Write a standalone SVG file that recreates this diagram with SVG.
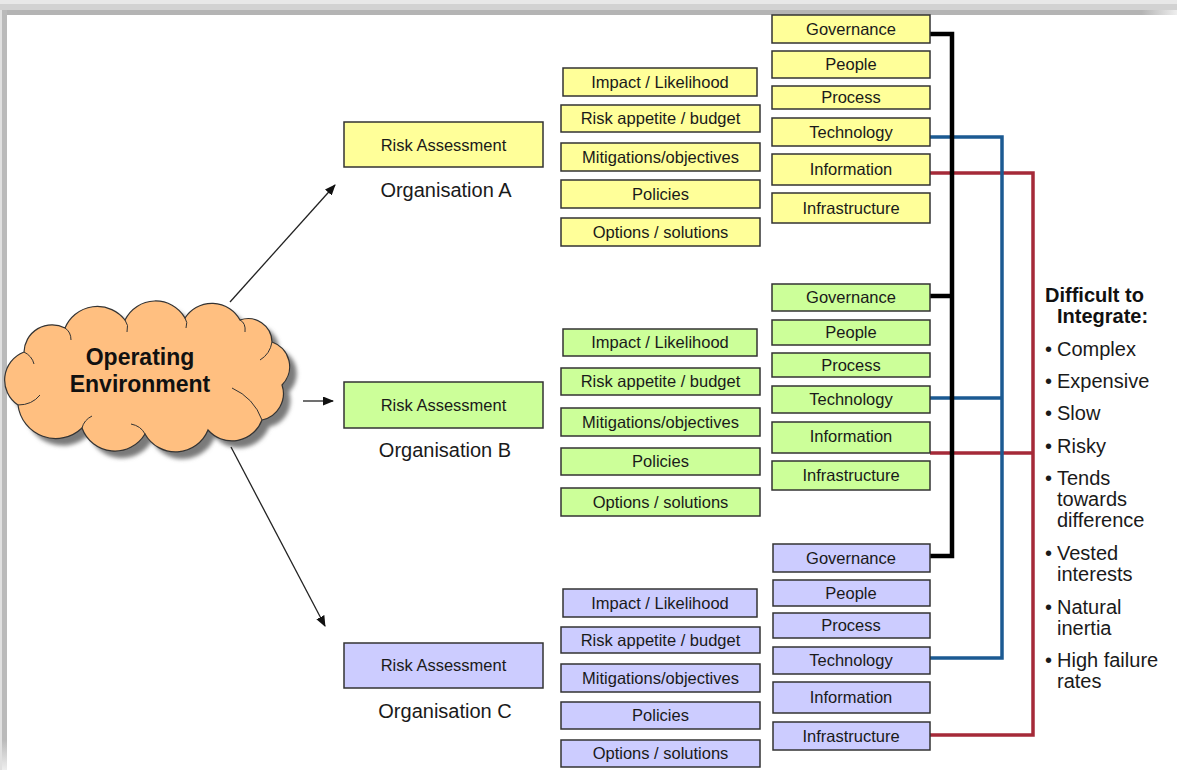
<svg xmlns="http://www.w3.org/2000/svg" width="1177" height="770" viewBox="0 0 1177 770">
  <defs>
    <style>
      .lbl { font-family: "Liberation Sans", Arial, sans-serif; font-size: 16.5px; fill: #1a1a1a; text-anchor: middle; }
      .org { font-family: "Liberation Sans", Arial, sans-serif; font-size: 20px; fill: #1a1a1a; text-anchor: middle; }
      .side { font-family: "Liberation Sans", Arial, sans-serif; font-size: 20px; fill: #1a1a1a; }
      .head { font-family: "Liberation Sans", Arial, sans-serif; font-size: 20px; font-weight: bold; fill: #111; }
      .cloudtxt { font-family: "Liberation Sans", Arial, sans-serif; font-size: 23px; font-weight: bold; fill: #111; text-anchor: middle; }
      .ya rect { fill: #ffff99; stroke: #333; stroke-width: 1.5; }
      .gb rect { fill: #ccff99; stroke: #333; stroke-width: 1.5; }
      .lc rect { fill: #ccccff; stroke: #333; stroke-width: 1.5; }
      .arrow { stroke: #222; stroke-width: 1.3; fill: none; marker-end: url(#head); }
      .blk { stroke: #000; stroke-width: 4.5; fill: none; }
      .blu { stroke: #1b5a92; stroke-width: 3.5; fill: none; }
      .red { stroke: #a52a38; stroke-width: 3.5; fill: none; }
    </style>
    <marker id="head" markerWidth="11" markerHeight="9" refX="10" refY="4.5" orient="auto" markerUnits="userSpaceOnUse">
      <path d="M0,0 L11,4.5 L0,9 Z" fill="#111"/>
    </marker>
    <filter id="soft" x="-10%" y="-10%" width="120%" height="120%">
      <feGaussianBlur stdDeviation="2"/>
    </filter>
    <linearGradient id="fadeR" x1="0" y1="0" x2="1" y2="0">
      <stop offset="0.97" stop-color="#b4b4b4"/>
      <stop offset="1" stop-color="#eeeeee"/>
    </linearGradient>
    <linearGradient id="fadeB" x1="0" y1="0" x2="0" y2="1">
      <stop offset="0.96" stop-color="#bababa"/>
      <stop offset="1" stop-color="#eeeeee"/>
    </linearGradient>
    <path id="cloudShape" d="M18,405 A30,30 0 0 1 24,352 A28,28 0 0 1 65,328 A35,35 0 0 1 125,320 A34,34 0 0 1 185,318 A32,32 0 0 1 240,320 A24,24 0 0 1 272,342 A26,26 0 0 1 282,385 A27,27 0 0 1 262,420 A32,32 0 0 1 208,430 A35,35 0 0 1 145,434 A35,35 0 0 1 82,428 A38,38 0 0 1 18,405 Z"/>
  </defs>

  <!-- page background and frame edges -->
  <rect x="0" y="0" width="1177" height="770" fill="#ffffff"/>
  <rect x="0" y="0" width="1177" height="4" fill="#e8e8e8"/>
  <rect x="0" y="4" width="1177" height="6" fill="#d2d2d2"/>
  <rect x="0" y="10" width="1177" height="5" fill="url(#fadeR)"/>
  <rect x="0" y="10" width="2" height="760" fill="#e0e0e0"/>
  <rect x="2" y="10" width="5" height="760" fill="url(#fadeB)"/>

  <!-- operating environment cloud -->
  <g id="cloud">
    <use href="#cloudShape" transform="translate(7,7)" fill="#7a7a7a" filter="url(#soft)"/>
    <use href="#cloudShape" fill="#ffbf80" stroke="#333" stroke-width="1.2"/>
    <path d="M24,352 q8,4 10,12 M65,328 q6,4 6,12 M125,320 q4,5 2,12 M185,318 q3,4 1,10 M240,320 q6,3 5,12 M272,342 q-2,12 -12,18 M262,420 q-8,-22 -30,-32 M145,434 q-4,-8 -14,-10 M82,428 q2,-8 10,-12 M18,405 q14,0 22,-10" fill="none" stroke="#333" stroke-width="1"/>
    <text class="cloudtxt" x="140" y="365">Operating</text>
    <text class="cloudtxt" x="140" y="392">Environment</text>
  </g>

  <!-- arrows from the cloud to each organisation -->
  <g id="arrows">
    <line class="arrow" x1="230" y1="302" x2="335" y2="185"/>
    <line class="arrow" x1="303" y1="401" x2="333" y2="401"/>
    <line class="arrow" x1="231" y1="447" x2="325" y2="626"/>
  </g>

  <!-- integration connectors -->
  <g id="connectors">
    <path class="red" d="M930,173 H1033 V735 H930 M930,453 H1033"/>
    <path class="blu" d="M930,137 H1002 V658 H930 M930,398 H1002"/>
    <path class="blk" d="M930,34 H952 V556 H930 M930,296 H952"/>
  </g>

  <!-- Organisation A -->
  <g id="orgA" class="ya">
    <g id="orgA-risk"><rect x="344" y="122" width="199" height="45"/><text class="lbl" x="443.5" y="150.5">Risk Assessment</text></g>
    <text class="org" x="446" y="197">Organisation A</text>
    <g id="orgA-impact"><rect x="563" y="68" width="194" height="28"/><text class="lbl" x="660" y="87.5">Impact / Likelihood</text></g>
    <g id="orgA-appetite"><rect x="561" y="105" width="199" height="27"/><text class="lbl" x="660.5" y="124">Risk appetite / budget</text></g>
    <g id="orgA-mitigations"><rect x="561" y="143" width="199" height="28"/><text class="lbl" x="660.5" y="162.5">Mitigations/objectives</text></g>
    <g id="orgA-policies"><rect x="561" y="180" width="199" height="28"/><text class="lbl" x="660.5" y="199.5">Policies</text></g>
    <g id="orgA-options"><rect x="561" y="218" width="199" height="28"/><text class="lbl" x="660.5" y="237.5">Options / solutions</text></g>
    <g id="orgA-governance"><rect x="772" y="15" width="158" height="28"/><text class="lbl" x="851" y="34.5">Governance</text></g>
    <g id="orgA-people"><rect x="772" y="51" width="158" height="27"/><text class="lbl" x="851" y="70">People</text></g>
    <g id="orgA-process"><rect x="772" y="86" width="158" height="23"/><text class="lbl" x="851" y="103">Process</text></g>
    <g id="orgA-technology"><rect x="772" y="118" width="158" height="28"/><text class="lbl" x="851" y="137.5">Technology</text></g>
    <g id="orgA-information"><rect x="772" y="154" width="158" height="31"/><text class="lbl" x="851" y="175">Information</text></g>
    <g id="orgA-infrastructure"><rect x="772" y="193" width="158" height="30"/><text class="lbl" x="851" y="213.5">Infrastructure</text></g>
  </g>

  <!-- Organisation B -->
  <g id="orgB" class="gb">
    <g id="orgB-risk"><rect x="344" y="382" width="199" height="46"/><text class="lbl" x="443.5" y="410.5">Risk Assessment</text></g>
    <text class="org" x="445" y="457">Organisation B</text>
    <g id="orgB-impact"><rect x="563" y="329" width="194" height="27"/><text class="lbl" x="660" y="348">Impact / Likelihood</text></g>
    <g id="orgB-appetite"><rect x="561" y="368" width="199" height="27"/><text class="lbl" x="660.5" y="387">Risk appetite / budget</text></g>
    <g id="orgB-mitigations"><rect x="561" y="408" width="199" height="28"/><text class="lbl" x="660.5" y="427.5">Mitigations/objectives</text></g>
    <g id="orgB-policies"><rect x="561" y="448" width="199" height="27"/><text class="lbl" x="660.5" y="467">Policies</text></g>
    <g id="orgB-options"><rect x="561" y="488" width="199" height="28"/><text class="lbl" x="660.5" y="507.5">Options / solutions</text></g>
    <g id="orgB-governance"><rect x="772" y="284" width="158" height="27"/><text class="lbl" x="851" y="303">Governance</text></g>
    <g id="orgB-people"><rect x="772" y="320" width="158" height="25"/><text class="lbl" x="851" y="338">People</text></g>
    <g id="orgB-process"><rect x="772" y="353" width="158" height="24"/><text class="lbl" x="851" y="370.5">Process</text></g>
    <g id="orgB-technology"><rect x="772" y="386" width="158" height="27"/><text class="lbl" x="851" y="405">Technology</text></g>
    <g id="orgB-information"><rect x="772" y="422" width="158" height="31"/><text class="lbl" x="851" y="442">Information</text></g>
    <g id="orgB-infrastructure"><rect x="772" y="461" width="158" height="29"/><text class="lbl" x="851" y="481">Infrastructure</text></g>
  </g>

  <!-- Organisation C -->
  <g id="orgC" class="lc">
    <g id="orgC-risk"><rect x="344" y="643" width="199" height="45"/><text class="lbl" x="443.5" y="671">Risk Assessment</text></g>
    <text class="org" x="445" y="718">Organisation C</text>
    <g id="orgC-impact"><rect x="563" y="589" width="194" height="28"/><text class="lbl" x="660" y="608.5">Impact / Likelihood</text></g>
    <g id="orgC-appetite"><rect x="561" y="627" width="199" height="26"/><text class="lbl" x="660.5" y="645.5">Risk appetite / budget</text></g>
    <g id="orgC-mitigations"><rect x="561" y="664" width="199" height="28"/><text class="lbl" x="660.5" y="683.5">Mitigations/objectives</text></g>
    <g id="orgC-policies"><rect x="561" y="702" width="199" height="27"/><text class="lbl" x="660.5" y="721">Policies</text></g>
    <g id="orgC-options"><rect x="561" y="740" width="199" height="27"/><text class="lbl" x="660.5" y="759">Options / solutions</text></g>
    <g id="orgC-governance"><rect x="773" y="544" width="157" height="28"/><text class="lbl" x="851" y="563.5">Governance</text></g>
    <g id="orgC-people"><rect x="773" y="580" width="157" height="26"/><text class="lbl" x="851" y="598.5">People</text></g>
    <g id="orgC-process"><rect x="773" y="613" width="157" height="25"/><text class="lbl" x="851" y="631">Process</text></g>
    <g id="orgC-technology"><rect x="773" y="647" width="157" height="27"/><text class="lbl" x="851" y="666">Technology</text></g>
    <g id="orgC-information"><rect x="773" y="682" width="157" height="31"/><text class="lbl" x="851" y="703">Information</text></g>
    <g id="orgC-infrastructure"><rect x="773" y="722" width="157" height="28"/><text class="lbl" x="851" y="741.5">Infrastructure</text></g>
  </g>

  <!-- integration difficulties list -->
  <g id="difficulties">
    <text class="head" x="1045" y="302">Difficult to</text>
    <text class="head" x="1057" y="323">Integrate:</text>
    <g class="side">
      <text x="1045" y="356">•</text><text x="1057" y="356">Complex</text>
      <text x="1045" y="388">•</text><text x="1057" y="388">Expensive</text>
      <text x="1045" y="420">•</text><text x="1057" y="420">Slow</text>
      <text x="1045" y="453">•</text><text x="1057" y="453">Risky</text>
      <text x="1045" y="485">•</text><text x="1057" y="485">Tends</text>
      <text x="1057" y="506">towards</text>
      <text x="1057" y="527">difference</text>
      <text x="1045" y="560">•</text><text x="1057" y="560">Vested</text>
      <text x="1057" y="581">interests</text>
      <text x="1045" y="614">•</text><text x="1057" y="614">Natural</text>
      <text x="1057" y="635">inertia</text>
      <text x="1045" y="667">•</text><text x="1057" y="667">High failure</text>
      <text x="1057" y="688">rates</text>
    </g>
  </g>
</svg>
